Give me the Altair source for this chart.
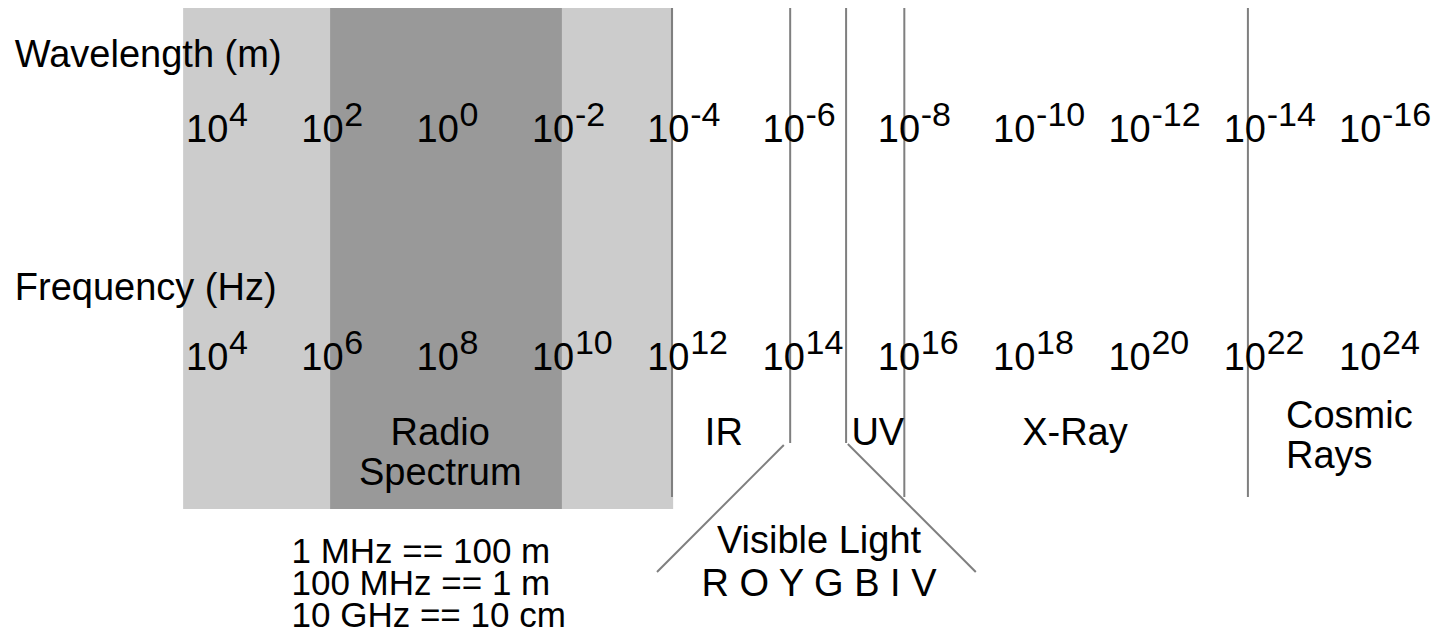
import altair as alt
import pandas as pd

# ---- data (exponents of frequency in Hz place every column) ----
FREQ_EXP = [4, 6, 8, 10, 12, 14, 16, 18, 20, 22, 24]
WAVE_EXP = [4, 2, 0, -2, -4, -6, -8, -10, -12, -14, -16]

BAND_NAMES = ["radio outer", "radio core"]
BAND_FROM = [3.95, 6.50]
BAND_TO = [12.45, 10.52]
BAND_COLORS = ["#cccccc", "#999999"]

BOUNDARY_EXP = [12.43, 14.48, 15.45, 16.46, 22.42]
BOUNDARY_KIND = ["long", "short", "short", "long", "long"]

VIS_FAN_FROM = [14.37, 15.48]
VIS_FAN_TO = [12.17, 17.70]

REGION_TEXT = ["Radio", "Spectrum", "IR", "UV", "X-Ray", "Cosmic", "Rays"]
REGION_EXP = [8.41, 8.41, 13.33, 16.00, 19.42, 23.08, 23.08]
REGION_ALIGN = ["center", "center", "center", "center", "center", "left", "left"]
REGION_LINE = ["r1", "r2", "r1", "r1", "r1", "c1", "c2"]

VIS_TEXT = ["Visible Light", "R O Y G B I V"]
VIS_EXP = [14.98, 14.98]

NOTE_TEXT = ["1 MHz == 100 m", "100 MHz == 1 m", "10 GHz == 10 cm"]
NOTE_EXP = 5.83

TITLE_TEXT = ["Wavelength (m)", "Frequency (Hz)"]
TITLE_EXP = 1.03

# ---- layout (page pixels for rows) ----
W, H = 1430, 626
PX_PER_EXP = 57.65
X_DOMAIN = [4 - 178 / PX_PER_EXP, 4 + (W - 178) / PX_PER_EXP]
Y_DOMAIN = [8, 8 + H]
TOP = 8
BAND_BOTTOM = 509
BOTTOMS = {"long": 497, "short": 443}
WL_TITLE_Y, WL_ROW_Y = 67, 142
FQ_TITLE_Y, FQ_ROW_Y = 300, 370
SUP_RISE = 16
ROW_Y = {"r1": 445, "r2": 485, "c1": 428, "c2": 468}
VIS_Y = [553, 596]
NOTE_Y = [563, 595, 627]
FONT = "Liberation Sans"
FS, FS_SUP, FS_NOTE = 38, 34, 35
LINE_COLOR = "#7f7f7f"

xs = alt.Scale(domain=X_DOMAIN, nice=False, zero=False)
ys = alt.Scale(domain=Y_DOMAIN, nice=False, zero=False, reverse=True)
X = lambda f: alt.X(f, type="quantitative", scale=xs, axis=None)
Y = lambda f: alt.Y(f, type="quantitative", scale=ys, axis=None)

bands = pd.DataFrame({"name": BAND_NAMES, "x": BAND_FROM, "x2": BAND_TO,
                      "y": [TOP] * 2, "y2": [BAND_BOTTOM] * 2})
band_layer = alt.Chart(bands).mark_rect().encode(
    x=X("x"), x2="x2", y=Y("y"), y2="y2",
    color=alt.Color("name:N", scale=alt.Scale(domain=BAND_NAMES, range=BAND_COLORS), legend=None),
)

bounds = pd.DataFrame({"x": BOUNDARY_EXP, "y": [TOP] * len(BOUNDARY_EXP),
                       "y2": [BOTTOMS[k] for k in BOUNDARY_KIND]})
bound_layer = alt.Chart(bounds).mark_rule(color=LINE_COLOR, strokeWidth=2).encode(
    x=X("x"), y=Y("y"), y2="y2")

fan = pd.DataFrame({"x": VIS_FAN_FROM, "x2": VIS_FAN_TO, "y": [445, 444], "y2": [572, 572]})
fan_layer = alt.Chart(fan).mark_rule(color=LINE_COLOR, strokeWidth=2).encode(
    x=X("x"), x2="x2", y=Y("y"), y2="y2")

def tick_layers(exps, row_y):
    base = pd.DataFrame({"x": FREQ_EXP, "y": [row_y] * len(FREQ_EXP), "t": ["10"] * len(FREQ_EXP)})
    sup = pd.DataFrame({"x": FREQ_EXP, "y": [row_y - SUP_RISE] * len(FREQ_EXP),
                        "t": [str(e) for e in exps]})
    b = alt.Chart(base).mark_text(align="left", baseline="alphabetic", font=FONT,
                                  fontSize=FS, color="black").encode(x=X("x"), y=Y("y"), text="t:N")
    s = alt.Chart(sup).mark_text(align="left", baseline="alphabetic", font=FONT,
                                 fontSize=FS_SUP, dx=43, color="black").encode(x=X("x"), y=Y("y"), text="t:N")
    return [b, s]

titles = pd.DataFrame({"x": [TITLE_EXP] * 2, "y": [WL_TITLE_Y, FQ_TITLE_Y], "t": TITLE_TEXT})
title_layer = alt.Chart(titles).mark_text(align="left", baseline="alphabetic", font=FONT,
                                          fontSize=FS, color="black").encode(x=X("x"), y=Y("y"), text="t:N")

regions = pd.DataFrame({"x": REGION_EXP, "y": [ROW_Y[r] for r in REGION_LINE],
                        "t": REGION_TEXT, "a": REGION_ALIGN})
reg_center = alt.Chart(regions[regions.a == "center"]).mark_text(
    align="center", baseline="alphabetic", font=FONT, fontSize=FS, color="black").encode(
    x=X("x"), y=Y("y"), text="t:N")
reg_left = alt.Chart(regions[regions.a == "left"]).mark_text(
    align="left", baseline="alphabetic", font=FONT, fontSize=FS, color="black").encode(
    x=X("x"), y=Y("y"), text="t:N")

vis = pd.DataFrame({"x": VIS_EXP, "y": VIS_Y, "t": VIS_TEXT})
vis_layer = alt.Chart(vis).mark_text(align="center", baseline="alphabetic", font=FONT,
                                     fontSize=FS, color="black").encode(x=X("x"), y=Y("y"), text="t:N")

notes = pd.DataFrame({"x": [NOTE_EXP] * 3, "y": NOTE_Y, "t": NOTE_TEXT})
note_layer = alt.Chart(notes).mark_text(align="left", baseline="alphabetic", font=FONT,
                                        fontSize=FS_NOTE, color="black").encode(x=X("x"), y=Y("y"), text="t:N")

layers = [band_layer, bound_layer, fan_layer] + tick_layers(WAVE_EXP, WL_ROW_Y) + \
    tick_layers(FREQ_EXP, FQ_ROW_Y) + [title_layer, reg_center, reg_left, vis_layer, note_layer]

chart = alt.layer(*layers).properties(width=W, height=H, padding=0, autosize="none",
                                     background="white").configure_view(stroke=None)

chart.save("out.html", embed_options={"renderer": "svg", "actions": False})
